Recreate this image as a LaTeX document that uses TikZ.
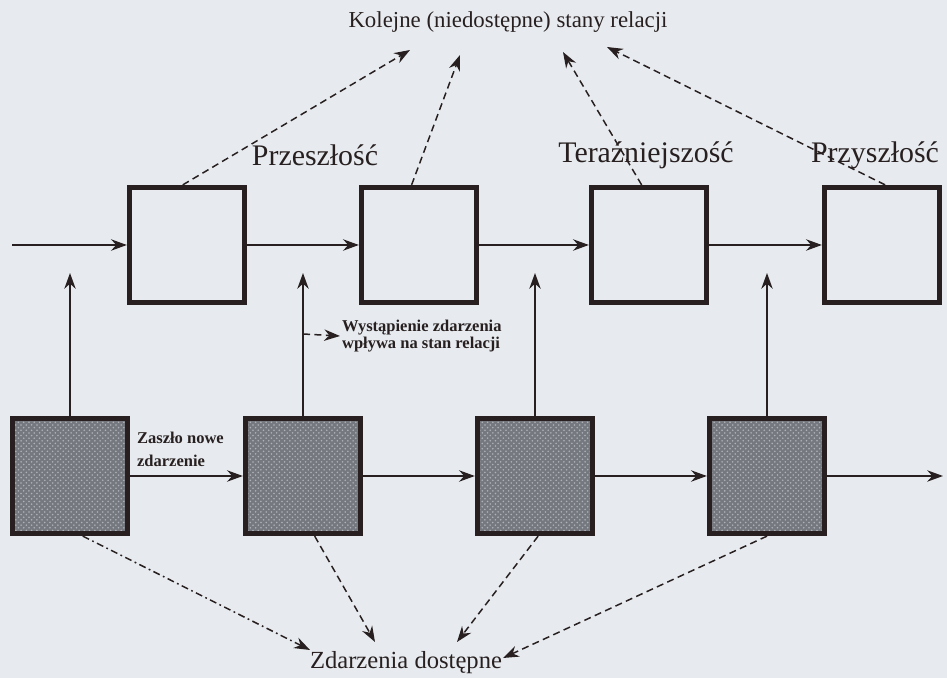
\documentclass[tikz,border=0pt]{standalone}
\usepackage{fontspec}
\setmainfont{Liberation Serif}
\usetikzlibrary{arrows.meta}
\usetikzlibrary{calc}
\usetikzlibrary{patterns}
\definecolor{paper}{RGB}{231,235,239}
\definecolor{ink}{RGB}{40,32,32}
\definecolor{shade}{RGB}{118,120,127}
\definecolor{speck}{RGB}{175,178,184}

\begin{document}
\begin{tikzpicture}[x=0.02cm, y=-0.02cm,
    stan/.style={draw=ink, line width=3pt, minimum width=2.3cm, minimum height=2.3cm, inner sep=0pt},
    zdarz/.style={stan, preaction={fill=shade}, pattern=crosshatch dots, pattern color=speck},
    flow/.style={draw=ink, line width=0.85pt, -{Stealth[length=9pt,width=6.5pt]}},
    hint/.style={flow, dash pattern=on 4pt off 2.5pt},
    hintdot/.style={flow, dash pattern=on 4pt off 2pt on 1pt off 2pt},
    okres/.style={font=\fontsize{17}{20}\selectfont, text=ink},
    opis/.style={font=\bfseries\fontsize{9.4}{9.5}\selectfont, text=ink, align=left, anchor=west, inner sep=1pt}]

          \fill[paper] (0,0) rectangle (947,678);
          \useasboundingbox (0,0) rectangle (947,678);

          % stany relacji (gora) i zdarzenia (dol)
          \node[stan] (s1) at (187,245) {};
          \node[stan] (s2) at (419,245) {};
          \node[stan] (s3) at (649,245) {};
          \node[stan] (s4) at (882,245) {};

          \node[zdarz] (e1) at (70,476) {};
          \node[zdarz] (e2) at (303,476) {};
          \node[zdarz] (e3) at (535,476) {};
          \node[zdarz] (e4) at (767,476) {};

          % napisy
          \node[font=\fontsize{13}{15}\selectfont, text=ink] (kolejne) at (508,22) {Kolejne (niedostępne) stany relacji};
          \node[okres] (przesz) at (315,155) {Przeszłość};
          \node[okres] (teraz) at (646,155) {Teraźniejszość};
          \node[okres] (przysz) at (875,155) {Przyszłość};
          \node[font=\fontsize{14}{16}\selectfont, text=ink] (dostepne) at (406,663) {Zdarzenia dostępne};
          \node[opis, font=\bfseries\fontsize{9.4}{13}\selectfont] (nowe) at (135,449) {Zaszło nowe\\zdarzenie};
          \node[opis] (wyst) at (340,336) {Wystąpienie zdarzenia\\wpływa na stan relacji};

          % punkty koncowe
          \coordinate (wej) at (12,245);
          \coordinate (wyj) at (943,476);
          \coordinate (gora) at (0,273);
          \coordinate (w0) at (303,334);
          \coordinate (k1) at (410,50);
          \coordinate (k2) at (460,55);
          \coordinate (k3) at (563,52);
          \coordinate (k4) at (607,47);
          \coordinate (d1) at (310,650);
          \coordinate (d2) at (375,642);
          \coordinate (d3) at (457,642);
          \coordinate (d4) at (503,658);

          \draw[flow] (wej) -- (s1.west);
          \draw[flow] (s1) -- (s2);
          \draw[flow] (s2) -- (s3);
          \draw[flow] (s3) -- (s4);

          \draw[flow] (e1) -- (e2);
          \draw[flow] (e2) -- (e3);
          \draw[flow] (e3) -- (e4);
          \draw[flow] (e4) -- (wyj);

          \draw[flow] (e1.north) -- (e1.north |- gora);
          \draw[flow] (e2.north) -- (e2.north |- gora);
          \draw[flow] (e3.north) -- (e3.north |- gora);
          \draw[flow] (e4.north) -- (e4.north |- gora);

          \draw[hint] (w0) -- (wyst.west);

          \draw[hint] (s1.94) -- (k1);
          \draw[hint] (s2.97) -- (k2);
          \draw[hint] (s3.97) -- (k3);
          \draw[hint] (s4.87) -- (k4);

          \draw[hintdot] (e1.282) -- (d1);
          \draw[hint] (e2.281) -- (d2);
          \draw[hint] (e3.273) -- (d3);
          \draw[hint] (e4.south) -- (d4);

\end{tikzpicture}
\end{document}
